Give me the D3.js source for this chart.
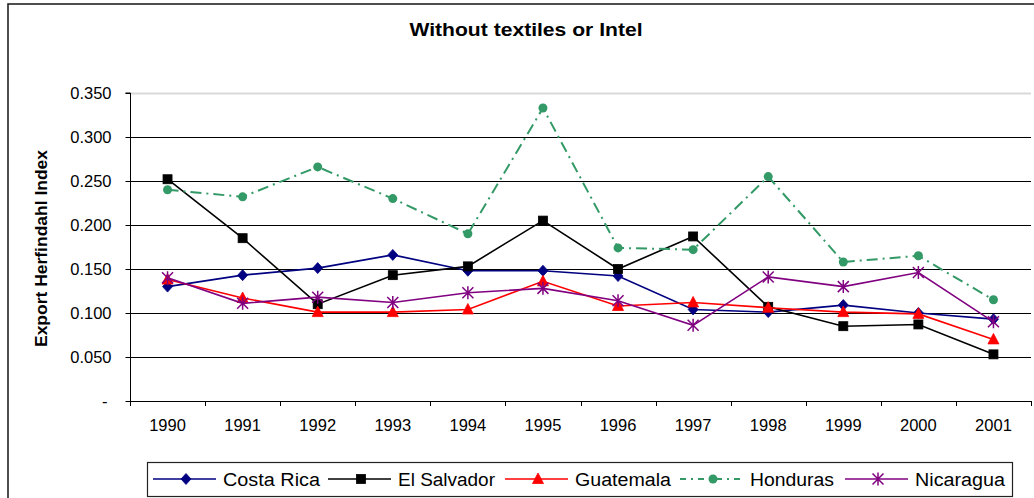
<!DOCTYPE html>
<html>
<head>
<meta charset="utf-8">
<script src="https://cdn.jsdelivr.net/npm/d3@7"></script>
<style>
  html, body { margin: 0; padding: 0; background: #fff; }
  svg { display: block; font-family: Arial, "Liberation Sans", sans-serif; }
</style>
</head>
<body>
<svg id="chart" width="1034" height="498"></svg>
<script>
// Export concentration by country, 1990-2001
const years = ["1990","1991","1992","1993","1994","1995","1996","1997","1998","1999","2000","2001"];
const yTicks = [0, 0.05, 0.10, 0.15, 0.20, 0.25, 0.30, 0.35];

const costaRica  = [0.130, 0.143, 0.151, 0.166, 0.148, 0.148, 0.142, 0.104, 0.101, 0.109, 0.100, 0.093];
const elSalvador = [0.252, 0.185, 0.110, 0.143, 0.153, 0.205, 0.150, 0.187, 0.107, 0.085, 0.087, 0.053];
const guatemala  = [0.138, 0.117, 0.101, 0.101, 0.104, 0.136, 0.108, 0.112, 0.106, 0.101, 0.099, 0.070];
const honduras   = [0.240, 0.232, 0.266, 0.230, 0.190, 0.333, 0.174, 0.172, 0.255, 0.158, 0.165, 0.115];
const nicaragua  = [0.140, 0.111, 0.118, 0.112, 0.123, 0.128, 0.114, 0.086, 0.141, 0.130, 0.146, 0.090];

const seriesNames = ["Costa Rica", "El Salvador", "Guatemala", "Honduras", "Nicaragua"];
const seriesValues = [costaRica, elSalvador, guatemala, honduras, nicaragua];

const styles = {
  "Costa Rica":  { color: "#000080", marker: "diamond", dash: null, legendW: 97 },
  "El Salvador": { color: "#000000", marker: "square",  dash: null, legendW: 97 },
  "Guatemala":   { color: "#FF0000", marker: "triangle", dash: null, legendW: 96 },
  "Honduras":    { color: "#339966", marker: "circle",  dash: "11,5,2,5", legendW: 84 },
  "Nicaragua":   { color: "#800080", marker: "star",    dash: null, legendW: 90 }
};

const svg = d3.select("#chart");
const W = 1034, H = 498;
const plot = { left: 130, right: 1031, top: 93, bottom: 401 };

// outer chart frame
svg.append("rect")
  .attr("x", 8).attr("y", 4).attr("width", W + 10).attr("height", H + 10)
  .attr("fill", "#fff").attr("stroke", "#222").attr("stroke-width", 1.6);

const x = d3.scaleBand().domain(years).range([plot.left, plot.right]);
const y = d3.scaleLinear().domain([0, 0.35]).range([plot.bottom, plot.top]);

// title
svg.append("text")
  .attr("x", 526).attr("y", 36)
  .attr("text-anchor", "middle")
  .attr("font-weight", "bold").attr("font-size", 18)
  .attr("textLength", 233).attr("lengthAdjust", "spacingAndGlyphs")
  .text("Without textiles or Intel");

// horizontal gridlines
svg.append("g").selectAll("line")
  .data(yTicks.filter(d => d > 0))
  .join("line")
  .attr("x1", plot.left).attr("x2", plot.right)
  .attr("y1", d => Math.round(y(d)) + 0.5).attr("y2", d => Math.round(y(d)) + 0.5)
  .attr("stroke", d => d === 0.35 ? "#d9d9d9" : "#000")
  .attr("stroke-width", d => d === 0.35 ? 2 : 1);

// y axis
const yAxis = d3.axisLeft(y).tickValues(yTicks).tickSize(5).tickPadding(14)
  .tickFormat(d => d === 0 ? "-" : d3.format(".3f")(d));
const gy = svg.append("g").attr("transform", `translate(${plot.left + 0.5},0)`).call(yAxis);
gy.select(".domain").attr("stroke", "#000").attr("d", `M-5,${plot.top}H0V${plot.bottom}`);
gy.selectAll(".tick line").attr("stroke", "#000");
gy.selectAll(".tick text").attr("font-size", 16.5).attr("fill", "#000")
  .attr("font-family", "Arial, 'Liberation Sans', sans-serif")
  .attr("dx", d => d === 0 ? -4 : 0);

// x axis
const xAxis = d3.axisBottom(x).tickSize(0).tickPadding(18);
const gx = svg.append("g").attr("transform", `translate(0,${plot.bottom + 0.5})`).call(xAxis);
gx.select(".domain").attr("stroke", "#000").attr("d", `M${plot.left},0H${plot.right}`);
gx.selectAll(".tick text").attr("font-size", 16.5).attr("fill", "#000")
  .attr("font-family", "Arial, 'Liberation Sans', sans-serif");
// category boundary ticks
const bounds = years.map(d => x(d)).concat([x(years[years.length - 1]) + x.bandwidth()]);
svg.append("g").selectAll("line")
  .data(bounds)
  .join("line")
  .attr("x1", d => Math.round(d) + 0.5).attr("x2", d => Math.round(d) + 0.5)
  .attr("y1", plot.bottom).attr("y2", plot.bottom + 5)
  .attr("stroke", "#000");

// y axis title
svg.append("text")
  .attr("transform", `translate(47,${(150 + 347) / 2}) rotate(-90)`)
  .attr("text-anchor", "middle")
  .attr("font-weight", "bold").attr("font-size", 17)
  .attr("textLength", 197).attr("lengthAdjust", "spacingAndGlyphs")
  .text("Export Herfindahl Index");

// marker drawing
function drawMarker(g, type, color, cx, cy) {
  if (type === "diamond") {
    g.append("path").attr("d", `M${cx},${cy - 5.5}L${cx + 5},${cy}L${cx},${cy + 5.5}L${cx - 5},${cy}Z`)
      .attr("fill", color).attr("stroke", color).attr("stroke-width", 0.8);
  } else if (type === "square") {
    g.append("rect").attr("x", cx - 4.5).attr("y", cy - 4.5).attr("width", 9).attr("height", 9)
      .attr("fill", color).attr("stroke", color).attr("stroke-width", 0.8);
  } else if (type === "triangle") {
    g.append("path").attr("d", `M${cx},${cy - 6}L${cx + 5.5},${cy + 4.5}L${cx - 5.5},${cy + 4.5}Z`)
      .attr("fill", color).attr("stroke", color).attr("stroke-width", 0.8);
  } else if (type === "circle") {
    g.append("circle").attr("cx", cx).attr("cy", cy).attr("r", 4.5).attr("fill", color);
  } else if (type === "star") {
    const r = 5.5;
    g.append("path")
      .attr("d", `M${cx - r},${cy - r}L${cx + r},${cy + r}M${cx - r},${cy + r}L${cx + r},${cy - r}M${cx},${cy - r - 1}L${cx},${cy + r + 1}`)
      .attr("stroke", color).attr("stroke-width", 1.5).attr("fill", "none");
  }
}

const line = d3.line().x((d, i) => x(years[i]) + x.bandwidth() / 2).y(d => y(d));

const gSeries = svg.append("g");
seriesNames.forEach((name, si) => {
  const st = styles[name];
  const vals = seriesValues[si];
  const g = gSeries.append("g");
  g.append("path").datum(vals)
    .attr("d", line)
    .attr("fill", "none")
    .attr("stroke", st.color)
    .attr("stroke-width", name === "Honduras" ? 2 : 1.6)
    .attr("stroke-dasharray", st.dash);
  vals.forEach((v, i) => drawMarker(g, st.marker, st.color, x(years[i]) + x.bandwidth() / 2, y(v)));
});

// legend
const legend = svg.append("g");
legend.append("rect")
  .attr("x", 147.5).attr("y", 462.5).attr("width", 865).attr("height", 34)
  .attr("fill", "#fff").attr("stroke", "#222").attr("stroke-width", 1.2);
const gaps = [8, 10, 9, 11, 0];
let lx = 153;
const ly = 479;
seriesNames.forEach((name, i) => {
  const st = styles[name];
  const g = legend.append("g");
  g.append("line")
    .attr("x1", lx).attr("x2", lx + 63).attr("y1", ly).attr("y2", ly)
    .attr("stroke", st.color).attr("stroke-width", name === "Honduras" ? 2 : 1.6)
    .attr("stroke-dasharray", name === "Honduras" ? "6,5,2,5" : null);
  drawMarker(g, st.marker, st.color, lx + 33, ly);
  g.append("text")
    .attr("x", lx + 70).attr("y", ly + 6.5)
    .attr("font-size", 18)
    .attr("textLength", st.legendW).attr("lengthAdjust", "spacingAndGlyphs")
    .text(name);
  lx += 70 + st.legendW + gaps[i];
});
</script>
</body>
</html>
